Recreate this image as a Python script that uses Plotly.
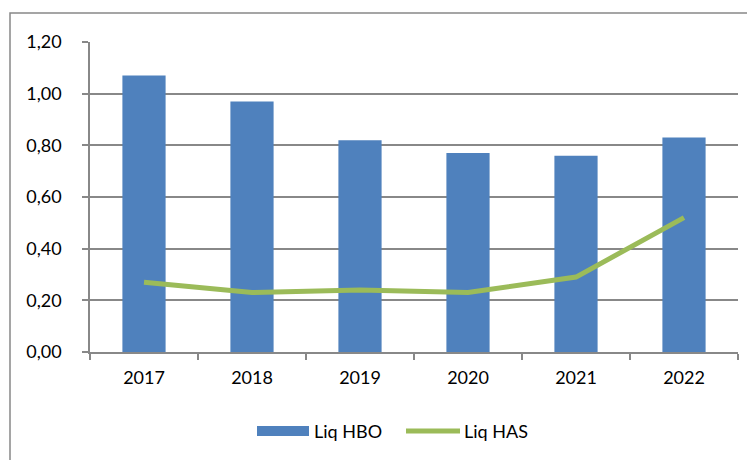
import plotly.graph_objects as go

years = ["2017", "2018", "2019", "2020", "2021", "2022"]
liq_hbo = [1.07, 0.97, 0.82, 0.77, 0.76, 0.83]
liq_has = [0.27, 0.23, 0.24, 0.23, 0.29, 0.52]
y_ticks = [0, 0.2, 0.4, 0.6, 0.8, 1.0, 1.2]

W, H = 755, 460
OFF = 8  # default body margin of the html page
L, R, T, B = 90 - OFF, 738 - OFF, 42 - OFF, 352 - OFF


def px(x):
    return (x - OFF - L) / (R - L)


def py(y):
    return (B - (y - OFF)) / (B - T)


fig = go.Figure()
fig.add_trace(go.Bar(x=years, y=liq_hbo, name="Liq HBO", marker=dict(color="#4F81BD", line=dict(width=0))))
fig.add_trace(go.Scatter(x=years, y=liq_has, name="Liq HAS", mode="lines",
                         line=dict(color="#9BBB59", width=5)))

legend_y = py(431)
shapes = [
    dict(type="rect", xref="paper", yref="paper",
         x0=px(10), x1=px(790), y0=py(500), y1=py(13),
         line=dict(color="#888", width=1.5), fillcolor="rgba(0,0,0,0)", layer="below"),
    dict(type="rect", xref="paper", yref="paper",
         x0=px(257), x1=px(309), y0=py(436), y1=py(426),
         line=dict(width=0), fillcolor="#4F81BD"),
    dict(type="line", xref="paper", yref="paper",
         x0=px(406), x1=px(460), y0=legend_y, y1=legend_y,
         line=dict(color="#9BBB59", width=5)),
]
annotations = [
    dict(text="Liq HBO", xref="paper", yref="paper", x=px(312), y=legend_y,
         xanchor="left", yanchor="middle", showarrow=False, font=dict(size=18)),
    dict(text="Liq HAS", xref="paper", yref="paper", x=px(462), y=legend_y,
         xanchor="left", yanchor="middle", showarrow=False, font=dict(size=18)),
]

fig.update_layout(
    width=W, height=H,
    margin=dict(l=L, r=W - R, t=T, b=H - B, autoexpand=False),
    paper_bgcolor="white", plot_bgcolor="white",
    separators=",.",
    bargap=0.6,
    font=dict(family="Lato, Open Sans, sans-serif", size=18, color="#000"),
    showlegend=False,
    xaxis=dict(showline=True, linecolor="#888", linewidth=1.5, ticks="outside",
               tickson="boundaries", ticklen=6, tickcolor="#888", tickwidth=1.5,
               showgrid=False, mirror=False, ticklabelstandoff=9),
    yaxis=dict(range=[0, 1.2], tickvals=y_ticks, tickformat=".2f", showline=True,
               linecolor="#888", linewidth=1.5, ticks="outside", ticklen=6,
               tickcolor="#888", tickwidth=1.5, showgrid=True, gridcolor="#888",
               gridwidth=1.5, zeroline=False, ticklabelstandoff=17),
    shapes=shapes,
    annotations=annotations,
)

fig.write_html("out.html")
